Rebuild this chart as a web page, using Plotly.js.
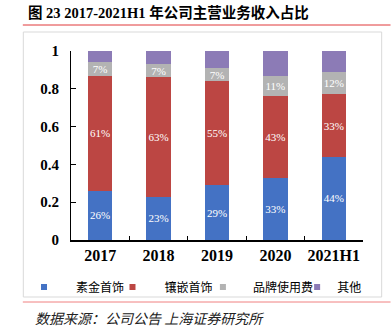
<!DOCTYPE html>
<html>
<head>
<meta charset="utf-8">
<script src="https://cdn.plot.ly/plotly-3.0.1.min.js"></script>
<style>html,body{margin:0;padding:0;background:#fff;}#chart{width:391px;height:332px;}</style>
</head>
<body>
<div id="chart"></div>
<script>
var categories = ['2017', '2018', '2019', '2020', '2021H1'];
var seriesNames = ['素金首饰', '镶嵌首饰', '品牌使用费', '其他'];
var plainGold = [0.26, 0.23, 0.29, 0.33, 0.44];
var inlaid = [0.61, 0.63, 0.55, 0.43, 0.33];
var brandFee = [0.07, 0.07, 0.07, 0.11, 0.12];
var others = [0.06, 0.07, 0.09, 0.13, 0.11];
var yTicks = [0, 0.2, 0.4, 0.6, 0.8, 1];
var yTickLabels = ['0', '0.2', '0.4', '0.6', '0.8', '1'];

var colors = ['#4472C4', '#BC4643', '#B3B3B3', '#8C7BB6'];
var values = [plainGold, inlaid, brandFee, others];
var showText = [true, true, true, false];
var legendIds = ['legend', 'legend2', 'legend3', 'legend4'];

var serif = 'Liberation Serif, Times New Roman, serif';
var traces = [];
values.forEach(function (v, i) {
  traces.push({
    type: 'bar', x: categories, y: v, name: seriesNames[i],
    marker: {color: colors[i], line: {width: 0}},
    texttemplate: showText[i] ? '%{y:.0%}' : '',
    textposition: showText[i] ? 'inside' : 'none',
    insidetextanchor: 'middle', textangle: 0, constraintext: 'none',
    textfont: {family: serif, size: 11, color: '#ffffff'},
    hoverinfo: 'skip', showlegend: false
  });
});
// legend entries (small square markers)
values.forEach(function (v, i) {
  traces.push({
    type: 'scatter', mode: 'markers', x: [null], y: [null], name: seriesNames[i],
    marker: {symbol: 'square', size: 6, color: colors[i]},
    legend: legendIds[i], showlegend: true, hoverinfo: 'skip'
  });
});

var W = 297, H = 189, L = 66, T = 51;
function px(x) { return (x - L) / W; }
function py(y) { return (T + H - y) / H; }
var legendFont = {family: 'Noto Sans CJK SC, sans-serif', size: 12, color: '#000'};
function leg(symX, itemw) {
  return {x: px(symX - 5 - itemw / 2), xanchor: 'left', y: py(287), yanchor: 'middle',
    orientation: 'h', font: legendFont, itemwidth: itemw, bgcolor: 'rgba(0,0,0,0)',
    borderwidth: 0, tracegroupgap: 0, itemclick: false};
}

var layout = {
  width: 391, height: 332,
  margin: {l: L, r: 391 - L - W, t: T, b: 332 - T - H, pad: 0},
  paper_bgcolor: '#ffffff', plot_bgcolor: '#ffffff',
  barmode: 'stack', bargap: 0.58,
  uniformtext: {mode: false},
  title: {text: '<b>图 23 2017-2021H1 年公司主营业务收入占比</b>',
    font: {family: 'Liberation Serif, Noto Sans CJK SC, serif', size: 14.5, color: '#000'},
    xref: 'container', yref: 'container', x: 28 / 391, xanchor: 'left', y: 1 - 13 / 332, yanchor: 'middle'},
  xaxis: {type: 'category', showline: true, linecolor: '#000', linewidth: 1.5,
    ticks: 'inside', ticklen: 4, tickcolor: '#000', tickwidth: 1, tickson: 'boundaries',
    tickangle: 0, showgrid: false, zeroline: false, fixedrange: true,
    tickfont: {family: serif, size: 16, color: '#000', weight: 'bold'}},
  yaxis: {range: [0, 1], showline: true, linecolor: '#000', linewidth: 1,
    ticks: 'inside', ticklen: 5, tickcolor: '#000', tickvals: yTicks, ticktext: yTickLabels,
    showgrid: false, zeroline: false, fixedrange: true, ticklabelstandoff: 8,
    tickfont: {family: serif, size: 15, color: '#000', weight: 'bold'}},
  legend: leg(38, 54), legend2: leg(128, 54), legend3: leg(220, 50), legend4: leg(316, 30),
  shapes: [
    {type: 'line', xref: 'paper', yref: 'paper', x0: px(17), x1: px(391), y0: py(25), y1: py(25),
      line: {color: '#E0393B', width: 1}},
    {type: 'rect', xref: 'paper', yref: 'paper', x0: px(17.5), x1: px(382), y0: py(32), y1: py(297),
      line: {color: '#D9D9D9', width: 1}},
    {type: 'line', xref: 'paper', yref: 'paper', x0: px(17), x1: px(391), y0: py(302), y1: py(302),
      line: {color: '#F08080', width: 1}}
  ],
  annotations: [
    {text: '<i>数据来源：公司公告 上海证券研究所</i>', xref: 'paper', yref: 'paper',
      x: px(27), xanchor: 'left', y: py(318), yanchor: 'middle', showarrow: false,
      font: {family: 'Noto Sans CJK SC, sans-serif', size: 14, color: '#222'}}
  ],
  hovermode: false
};
Plotly.newPlot('chart', traces, layout, {displayModeBar: false, staticPlot: true});
</script>
</body>
</html>
